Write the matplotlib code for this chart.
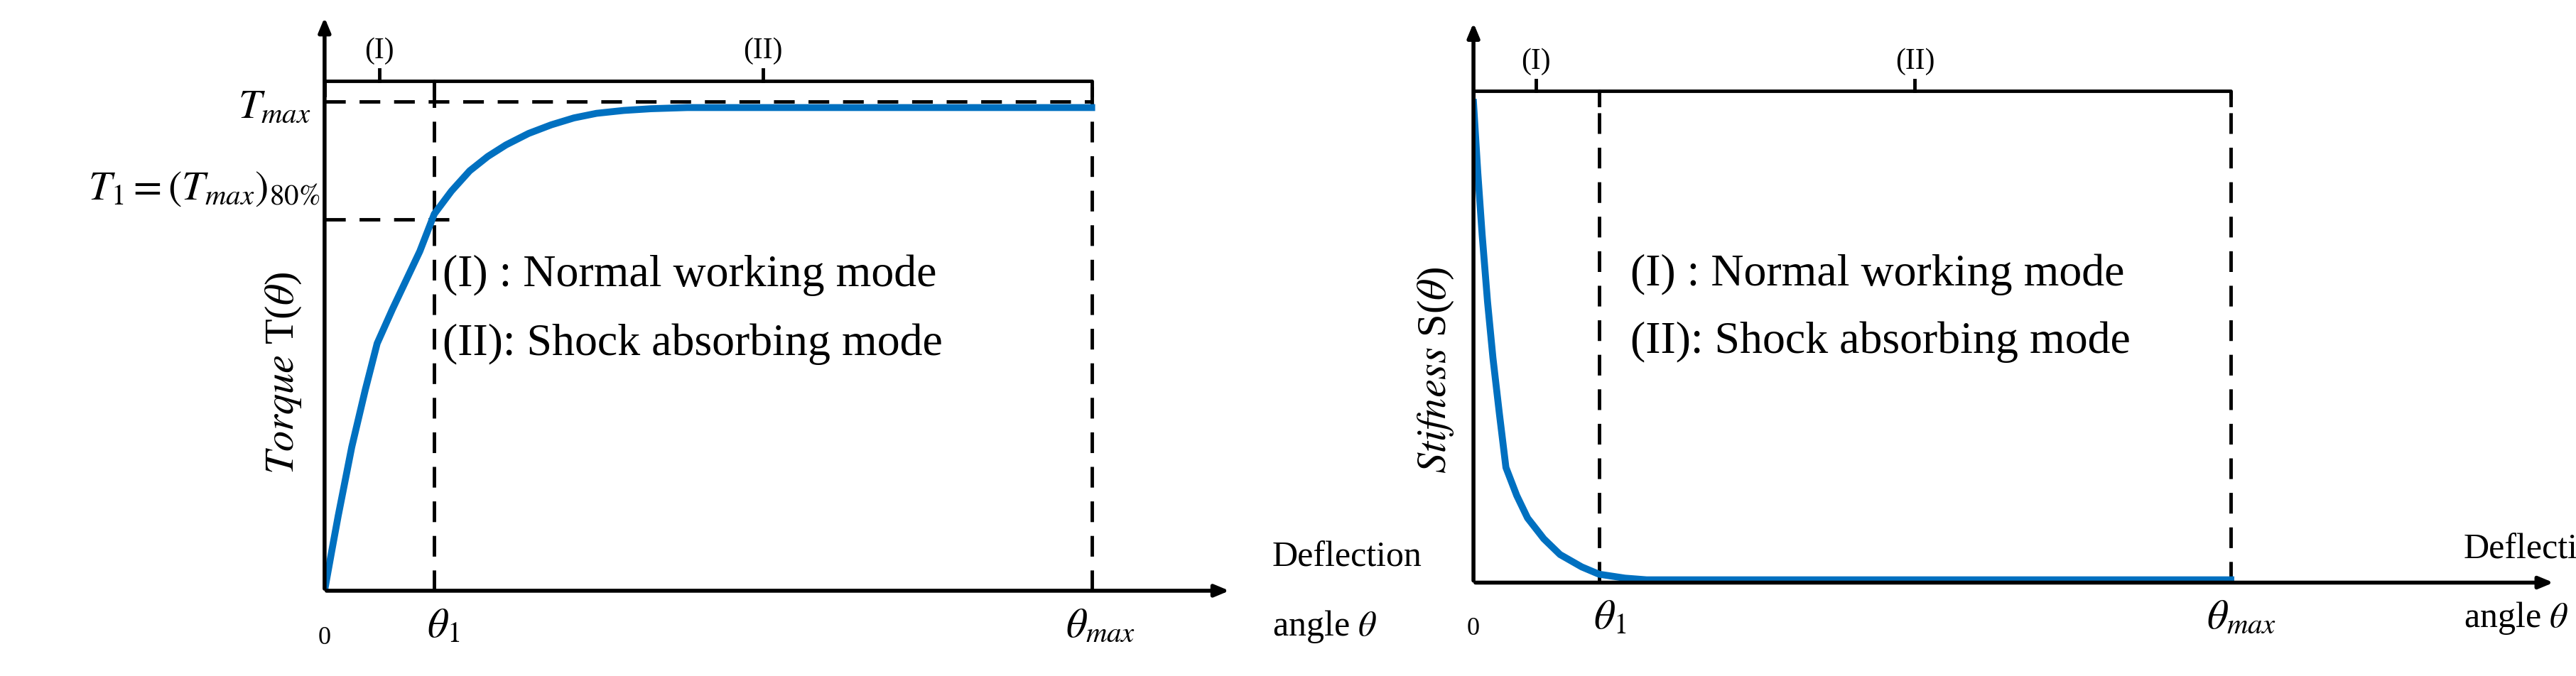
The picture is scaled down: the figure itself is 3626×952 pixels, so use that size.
import matplotlib.pyplot as plt

plt.rcParams['font.family'] = ['Liberation Serif', 'DejaVu Serif']
plt.rcParams['mathtext.fontset'] = 'stix'

# torque curve (left)
theta_t = [0, 0.08, 0.15, 0.3, 0.45, 0.58, 0.75, 0.9, 1.05, 1.21, 1.4, 1.6, 1.8, 2.0,
           2.25, 2.5, 2.75, 3.0, 3.3, 3.6, 4.0, 8.46]
torque = [0, 0.7, 1.3, 2.5, 3.5, 4.3, 4.9, 5.4, 5.9, 6.55, 6.95, 7.3, 7.55, 7.75,
          7.95, 8.1, 8.22, 8.3, 8.35, 8.38, 8.4, 8.4]
theta1_l, thetamax_l, tmax, t1 = 1.21, 8.46, 8.4, 6.45

# stiffness curve (right)
theta_s = [0, 0.04, 0.08, 0.13, 0.18, 0.24, 0.3, 0.4, 0.5, 0.65, 0.8, 1.0, 1.16, 1.4, 1.6, 7.0]
stiff = [8.55, 7.3, 6.2, 5.0, 4.0, 3.0, 2.05, 1.55, 1.15, 0.78, 0.5, 0.28, 0.15, 0.08, 0.05, 0.05]
theta1_r, thetamax_r = 1.16, 7.0

blue = '#0070c0'
fs = 42
fig = plt.figure(figsize=(36.26, 9.53), dpi=100)


def frame(ax, t1x, tmx, top, defl_x):
    ax.set_xlim(0, 10)
    ax.set_ylim(0, 10)
    ax.axis('off')
    ax.annotate('', xy=(10, 0), xytext=(0, 0), annotation_clip=False,
                arrowprops=dict(arrowstyle='-|>,head_length=1.2,head_width=0.5', lw=4, color='k'))
    ax.annotate('', xy=(0, 10), xytext=(0, 0), annotation_clip=False,
                arrowprops=dict(arrowstyle='-|>,head_length=1.2,head_width=0.5', lw=4, color='k'))
    # brackets
    for a, b, lab in [(0, t1x, '(I)'), (t1x, tmx, '(II)')]:
        ax.plot([a, a, b, b], [top - 0.25, top, top, top - 0.25], color='k', lw=3.5, clip_on=False)
        m = (a + b) / 2
        ax.plot([m, m], [top, top + 0.2], color='k', lw=3.5, clip_on=False)
        ax.text(m, top + 0.3, lab, ha='center', va='bottom', fontsize=30)
    ax.text(defl_x, 0.3, 'Deflection', fontsize=36, va='bottom')
    ax.text(defl_x, -0.3, r'angle $\theta$', fontsize=36, va='top')
    ax.text(0, -0.6, '0', fontsize=26, ha='center', va='top')
    ax.text(t1x + 0.1, -0.3, r'$\theta_1$', fontsize=fs, ha='center', va='top')
    ax.text(tmx + 0.1, -0.3, r'$\theta_{max}$', fontsize=fs, ha='center', va='top')


ax1 = fig.add_axes([0.126, 0.126, 0.352, 0.85])
frame(ax1, theta1_l, thetamax_l, 8.86, 10.45)
ax1.plot([theta1_l, theta1_l], [0, 8.86], 'k--', lw=3.5, dashes=(6, 4))
ax1.plot([thetamax_l, thetamax_l], [0, 8.86], 'k--', lw=3.5, dashes=(6, 4))
ax1.plot([0, thetamax_l], [8.5, 8.5], 'k--', lw=3.5, dashes=(6, 4))
ax1.plot([0, theta1_l + 0.2], [t1, t1], 'k--', lw=3.5, dashes=(6, 4))
ax1.plot(theta_t, torque, color=blue, lw=7)
ax1.text(-0.15, tmax, r'$T_{max}$', fontsize=fs, ha='right', va='center')
ax1.text(-0.05, t1 + 0.55, r'$T_1=(T_{max})_{80\%}$', fontsize=fs, ha='right', va='center')
ax1.text(-0.45, 3.8, r'$Torque$ T($\theta$)', fontsize=fs, rotation=90, ha='center', va='center')
ax1.text(1.3, 5.5, '(I) : Normal working mode', fontsize=46, va='center')
ax1.text(1.3, 4.3, '(II): Shock absorbing mode', fontsize=46, va='center')

ax2 = fig.add_axes([0.572, 0.138, 0.42, 0.83])
frame(ax2, theta1_r, thetamax_r, 8.75, 9.15)
ax2.plot([theta1_r, theta1_r], [0, 8.75], 'k--', lw=3.5, dashes=(6, 4))
ax2.plot([thetamax_r, thetamax_r], [0, 8.75], 'k--', lw=3.5, dashes=(6, 4))
ax2.plot(theta_s, stiff, color=blue, lw=7)
ax2.text(-0.35, 3.8, r'$Stifness$ S($\theta$)', fontsize=fs, rotation=90, ha='center', va='center')
ax2.text(1.45, 5.5, '(I) : Normal working mode', fontsize=46, va='center')
ax2.text(1.45, 4.3, '(II): Shock absorbing mode', fontsize=46, va='center')

fig.savefig('out.png', dpi=100)
